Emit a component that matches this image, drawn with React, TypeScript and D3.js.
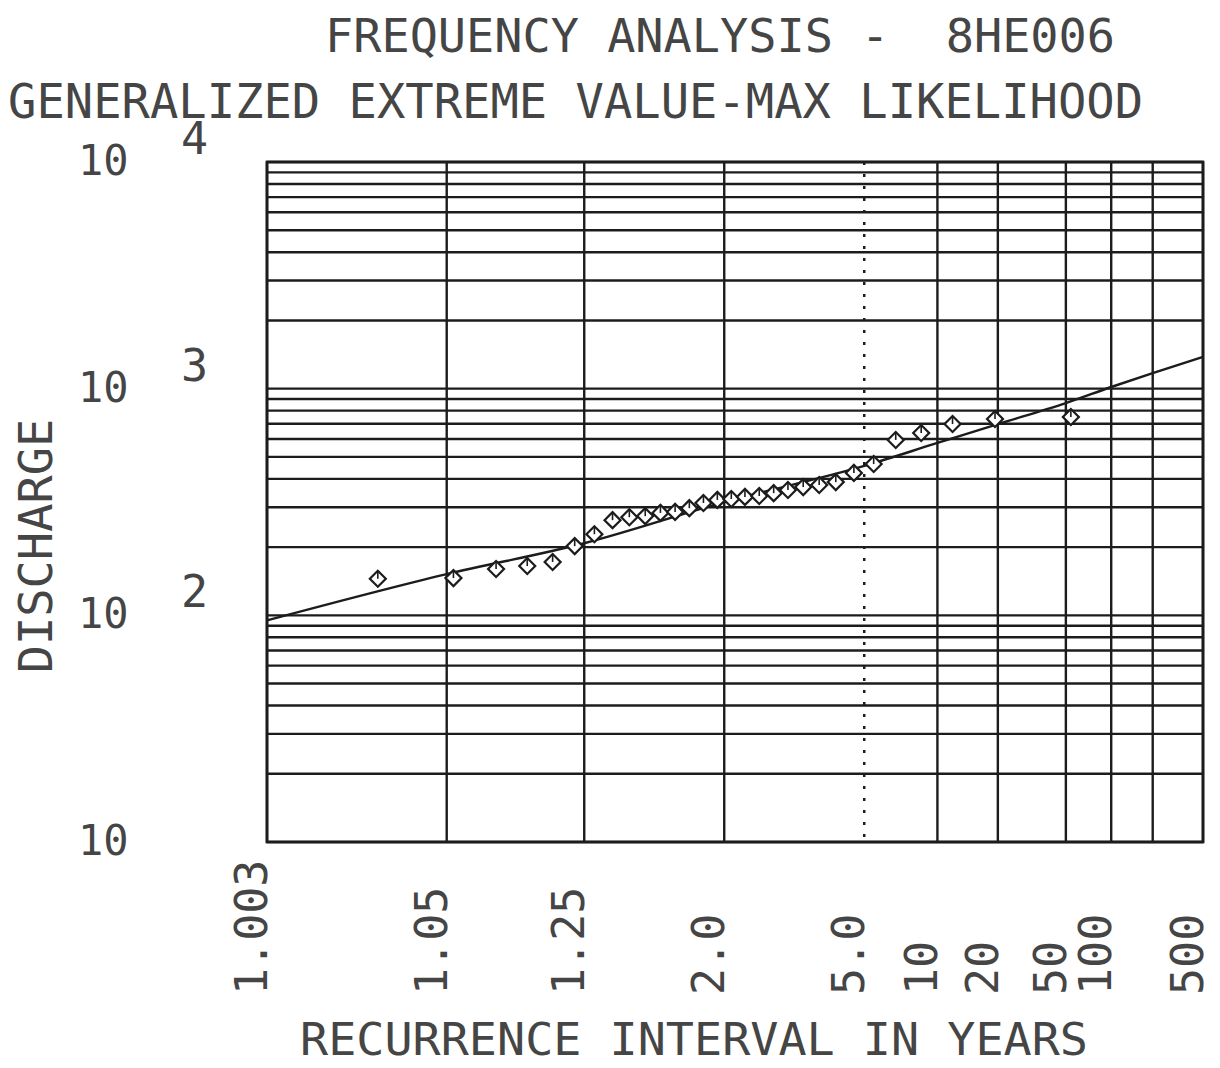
import * as d3 from "d3";
import { useCallback } from "react";

// recurrence interval ticks (years) for the probability axis
const xTicks = [1.003, 1.05, 1.25, 2, 5, 10, 20, 50, 100, 200, 500];
const xTickLabels = ["1.003", "1.05", "1.25", "2.0", "5.0", "10", "20", "50", "100", "", "500"];
const dottedTick = 5;

// discharge decades (log axis)
const yDecades = [10, 100, 1000, 10000];
const yExponents = ["", "2", "3", "4"];

// observed annual peaks: recurrence interval (years) and discharge
const obsT = [
  1.019, 1.0546, 1.093, 1.134, 1.178, 1.226, 1.278, 1.335, 1.397, 1.465,
  1.54, 1.623, 1.715, 1.819, 1.936, 2.07, 2.22, 2.4, 2.61, 2.85,
  3.15, 3.52, 3.98, 4.59, 5.42, 6.61, 8.46, 11.77, 19.31, 53.8,
];
const obsQ = [
  145, 146, 160, 165, 172, 202, 228, 263, 271, 274,
  283, 286, 297, 313, 323, 326, 333, 336, 346, 357,
  368, 376, 387, 425, 465, 594, 637, 698, 735, 750,
];

// fitted GEV (max likelihood) curve
const fitT = [1.003, 1.05, 1.25, 2, 5, 10, 20, 50, 100, 200, 500];
const fitQ = [95, 152, 208, 316, 456, 576, 698, 864, 1017, 1172, 1380];

// inverse standard normal CDF (Acklam) for the probability paper
function normInv(p: number): number {
  const a = [-39.69683028665376, 220.9460984245205, -275.9285104469687, 138.357751867269, -30.66479806614716, 2.506628277459239];
  const b = [-54.47609879822406, 161.5858368580409, -155.6989798598866, 66.80131188771972, -13.28068155288572];
  const c = [-0.007784894002430293, -0.3223964580411365, -2.400758277161838, -2.549732539343734, 4.374664141464968, 2.938163982698783];
  const d = [0.007784695709041462, 0.3224671290700398, 2.445134137142996, 3.754408661907416];
  const pl = 0.02425;
  if (p < pl) {
    const q = Math.sqrt(-2 * Math.log(p));
    return (((((c[0] * q + c[1]) * q + c[2]) * q + c[3]) * q + c[4]) * q + c[5]) /
      ((((d[0] * q + d[1]) * q + d[2]) * q + d[3]) * q + 1);
  }
  if (p <= 1 - pl) {
    const q = p - 0.5;
    const r = q * q;
    return ((((((a[0] * r + a[1]) * r + a[2]) * r + a[3]) * r + a[4]) * r + a[5]) * q) /
      (((((b[0] * r + b[1]) * r + b[2]) * r + b[3]) * r + b[4]) * r + 1);
  }
  const q = Math.sqrt(-2 * Math.log(1 - p));
  return -(((((c[0] * q + c[1]) * q + c[2]) * q + c[3]) * q + c[4]) * q + c[5]) /
    ((((d[0] * q + d[1]) * q + d[2]) * q + d[3]) * q + 1);
}

const zOf = (T: number) => normInv(1 - 1 / T);

const FONT = "'DejaVu Sans Mono', 'Liberation Mono', monospace";
const INK = "#1c1c1c";
const TEXT = "#454545";

export default function App() {
  const renderChart = useCallback((el: HTMLDivElement | null) => {
    if (!el) return;
    const W = 1220;
    const H = 1068;
    const left = 267;
    const right = 1203;
    const top = 162;
    const bottom = 842;

    const container = d3
      .select(el)
      .append("svg")
      .attr("width", W)
      .attr("height", H)
      .style("position", "absolute")
      .style("left", "0px")
      .style("top", "0px")
      .style("background", "#fff");

    const xScale = d3
      .scaleLinear()
      .domain([zOf(xTicks[0]), zOf(xTicks[xTicks.length - 1])])
      .range([left, right]);
    const yScale = d3.scaleLog().domain([10, 10000]).range([bottom, top]);

    // titles
    container
      .append("text")
      .attr("x", 325)
      .attr("y", 52)
      .attr("textLength", 790)
      .attr("lengthAdjust", "spacingAndGlyphs")
      .attr("font-family", FONT)
      .attr("font-size", 47)
      .attr("fill", TEXT)
      .style("white-space", "pre")
      .text("FREQUENCY ANALYSIS -  8HE006");

    container
      .append("text")
      .attr("x", 8)
      .attr("y", 118)
      .attr("textLength", 1135)
      .attr("lengthAdjust", "spacingAndGlyphs")
      .attr("font-family", FONT)
      .attr("font-size", 48)
      .attr("fill", TEXT)
      .text("GENERALIZED EXTREME VALUE-MAX LIKELIHOOD");

    const g = container.append("g");

    // horizontal grid: 1..9 x each decade
    const hLines: number[] = [];
    yDecades.slice(0, -1).forEach((dec) => {
      for (let k = 1; k <= 9; k++) hLines.push(k * dec);
    });
    hLines.push(yDecades[yDecades.length - 1]);

    g.selectAll("line.h")
      .data(hLines)
      .enter()
      .append("line")
      .attr("x1", left)
      .attr("x2", right)
      .attr("y1", (d) => yScale(d))
      .attr("y2", (d) => yScale(d))
      .attr("stroke", INK)
      .attr("stroke-width", 2.4);

    // vertical grid
    g.selectAll("line.v")
      .data(xTicks)
      .enter()
      .append("line")
      .attr("x1", (d) => xScale(zOf(d)))
      .attr("x2", (d) => xScale(zOf(d)))
      .attr("y1", top)
      .attr("y2", bottom)
      .attr("stroke", INK)
      .attr("stroke-width", (d) => (d === dottedTick ? 2.5 : 2.4))
      .attr("stroke-dasharray", (d) => (d === dottedTick ? "3 9" : null));

    // frame
    g.append("rect")
      .attr("x", left)
      .attr("y", top)
      .attr("width", right - left)
      .attr("height", bottom - top)
      .attr("fill", "none")
      .attr("stroke", INK)
      .attr("stroke-width", 2.8);

    // fitted curve
    const line = d3
      .line<number>()
      .x((_, i) => xScale(zOf(fitT[i])))
      .y((d) => yScale(d))
      .curve(d3.curveMonotoneX);

    g.append("path")
      .datum(fitQ)
      .attr("fill", "none")
      .attr("stroke", INK)
      .attr("stroke-width", 2.4)
      .attr("d", line);

    // observed points: diamonds with plotter tick
    const pts = g
      .selectAll("g.pt")
      .data(obsQ)
      .enter()
      .append("g")
      .attr(
        "transform",
        (d, i) => `translate(${xScale(zOf(obsT[i]))},${yScale(d)})`
      );

    pts
      .append("path")
      .attr("d", d3.symbol(d3.symbolSquare, 128)())
      .attr("transform", "rotate(45)")
      .attr("fill", "#fff")
      .attr("stroke", INK)
      .attr("stroke-width", 2.2);

    pts
      .append("line")
      .attr("x1", 0)
      .attr("x2", 0)
      .attr("y1", -7)
      .attr("y2", 0)
      .attr("stroke", INK)
      .attr("stroke-width", 1.6);

    // x tick labels (rotated)
    container
      .selectAll("text.xt")
      .data(xTicks)
      .enter()
      .append("text")
      .attr(
        "transform",
        (d) => `translate(${xScale(zOf(d))},995) rotate(-90)`
      )
      .attr("font-family", FONT)
      .attr("font-size", 45)
      .attr("fill", TEXT)
      .attr("text-anchor", "start")
      .text((_, i) => xTickLabels[i]);

    // y tick labels: 10 with exponent
    const yl = container
      .selectAll("g.yt")
      .data(yDecades)
      .enter()
      .append("g");

    yl.append("text")
      .attr("x", 78)
      .attr("y", (d) => yScale(d) + 13)
      .attr("font-family", FONT)
      .attr("font-size", 42)
      .attr("fill", TEXT)
      .text("10");

    yl.append("text")
      .attr("x", 181)
      .attr("y", (d) => yScale(d) - 8)
      .attr("font-family", FONT)
      .attr("font-size", 45)
      .attr("fill", TEXT)
      .text((_, i) => yExponents[i]);

    // axis titles
    container
      .append("text")
      .attr("transform", "translate(52,546) rotate(-90)")
      .attr("text-anchor", "middle")
      .attr("font-family", FONT)
      .attr("font-size", 47)
      .attr("fill", TEXT)
      .text("DISCHARGE");

    container
      .append("text")
      .attr("x", 300)
      .attr("y", 1055)
      .attr("textLength", 788)
      .attr("lengthAdjust", "spacingAndGlyphs")
      .attr("font-family", FONT)
      .attr("font-size", 44)
      .attr("fill", TEXT)
      .text("RECURRENCE INTERVAL IN YEARS");

    return () => {
      container.remove();
    };
  }, []);

  return <div ref={renderChart}></div>;
}
